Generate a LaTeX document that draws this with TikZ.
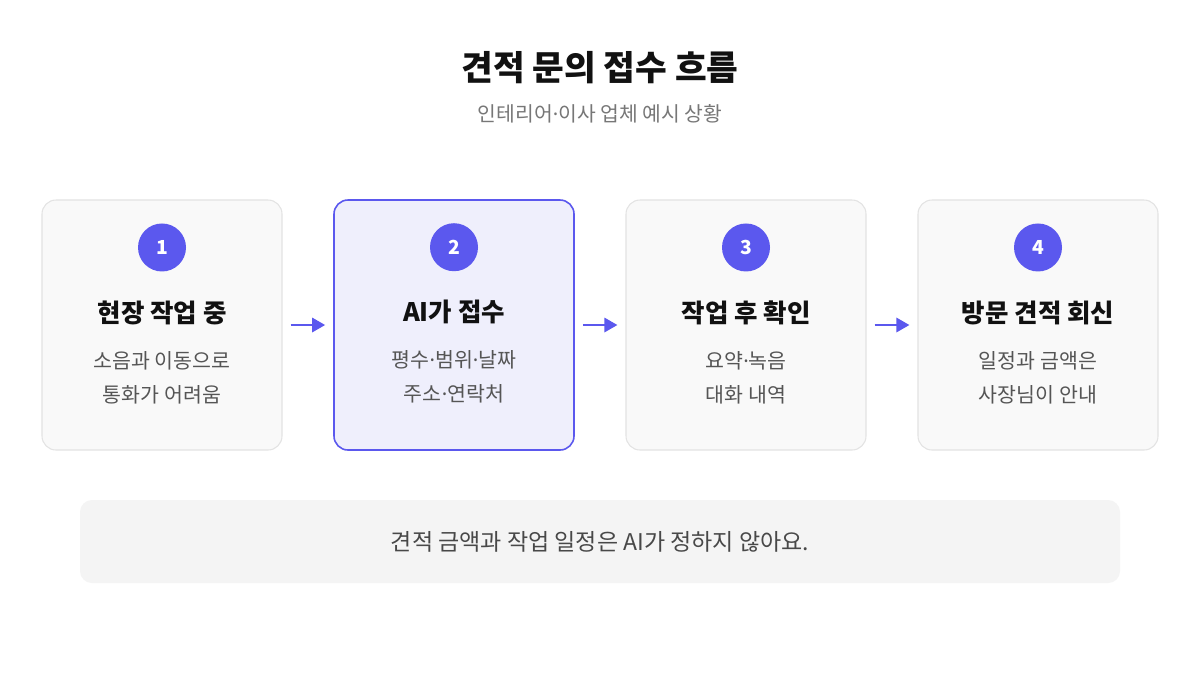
\documentclass[tikz,border=0pt]{standalone}
\usepackage{fontspec}
\setmainfont{Noto Sans CJK KR}
\newfontfamily\dotfont{Noto Sans}
\newcommand{\mdot}{{\dotfont ·}}
\usepackage{tikz}
\usetikzlibrary{positioning, arrows.meta}
\definecolor{accent}{RGB}{91,88,238}
\definecolor{accentbg}{RGB}{239,239,252}
\definecolor{cardbg}{RGB}{249,249,249}
\definecolor{cardline}{RGB}{227,227,227}
\definecolor{notebg}{RGB}{244,244,244}
\definecolor{titletext}{RGB}{17,17,17}
\definecolor{bodytext}{RGB}{85,85,85}
\definecolor{notetext}{RGB}{72,72,72}
\definecolor{subtext}{RGB}{119,119,119}
\tikzstyle{card} = [rectangle, rounded corners=0.28cm, minimum width=4.8cm,
    minimum height=5cm, draw=cardline, line width=0.6pt, fill=cardbg]
\tikzstyle{activecard} = [card, draw=accent, line width=0.9pt, fill=accentbg]
\tikzstyle{badge} = [circle, minimum size=0.96cm, inner sep=0pt, fill=accent,
    text=white, font=\fontsize{11}{13}\selectfont\bfseries]
\tikzstyle{cardtitle} = [text=titletext, font=\fontsize{14.5}{17}\selectfont\bfseries]
\tikzstyle{cardbody} = [text=bodytext, align=center, inner sep=0pt,
    font=\fontsize{11.7}{19.4}\selectfont]
\tikzstyle{arrow} = [line width=1.6pt, draw=accent, -{Triangle[length=2.6mm,width=2.8mm]},
    shorten <=0.16cm, shorten >=0.16cm]

\begin{document}
\begin{tikzpicture}
            \useasboundingbox[fill=white] (0,0) rectangle (24,-13.5);

            \node (title) [text=titletext, font=\fontsize{19.6}{23}\selectfont\bfseries] at (12,-1.35) {견적 문의 접수 흐름};
            \node (subtitle) [text=subtext, font=\fontsize{11.6}{14}\selectfont] at (12,-2.28) {인테리어\mdot 이사 업체 예시 상황};

            \node (card1) [card] at (3.24,-6.5) {};
            \node (card2) [activecard] at (9.08,-6.5) {};
            \node (card3) [card] at (14.92,-6.5) {};
            \node (card4) [card] at (20.76,-6.5) {};

            % step 1
            \node (badge1) [badge] at ([yshift=-0.96cm]card1.north) {1};
            \node (head1) [cardtitle] at ([yshift=-2.26cm]card1.north) {현장 작업 중};
            \node (body1) [cardbody] at ([yshift=-3.56cm]card1.north) {소음과 이동으로\\통화가 어려움};

            % step 2
            \node (badge2) [badge] at ([yshift=-0.96cm]card2.north) {2};
            \node (head2) [cardtitle] at ([yshift=-2.26cm]card2.north) {AI가 접수};
            \node (body2) [cardbody] at ([yshift=-3.56cm]card2.north) {평수\mdot 범위\mdot 날짜\\주소\mdot 연락처};

            % step 3
            \node (badge3) [badge] at ([yshift=-0.96cm]card3.north) {3};
            \node (head3) [cardtitle] at ([yshift=-2.26cm]card3.north) {작업 후 확인};
            \node (body3) [cardbody] at ([yshift=-3.56cm]card3.north) {요약\mdot 녹음\\대화 내역};

            % step 4
            \node (badge4) [badge] at ([yshift=-0.96cm]card4.north) {4};
            \node (head4) [cardtitle] at ([yshift=-2.26cm]card4.north) {방문 견적 회신};
            \node (body4) [cardbody] at ([yshift=-3.56cm]card4.north) {일정과 금액은\\사장님이 안내};

            \draw [arrow] (card1) -- (card2);
            \draw [arrow] (card2) -- (card3);
            \draw [arrow] (card3) -- (card4);

            \node (note) [rectangle, rounded corners=0.24cm, minimum width=20.8cm, minimum height=1.66cm,
                fill=notebg, text=notetext, font=\fontsize{13.1}{15}\selectfont] at (12,-10.83)
                {\raisebox{-1.2pt}{견적 금액과 작업 일정은 AI가 정하지 않아요.}};
        \end{tikzpicture}
\end{document}
